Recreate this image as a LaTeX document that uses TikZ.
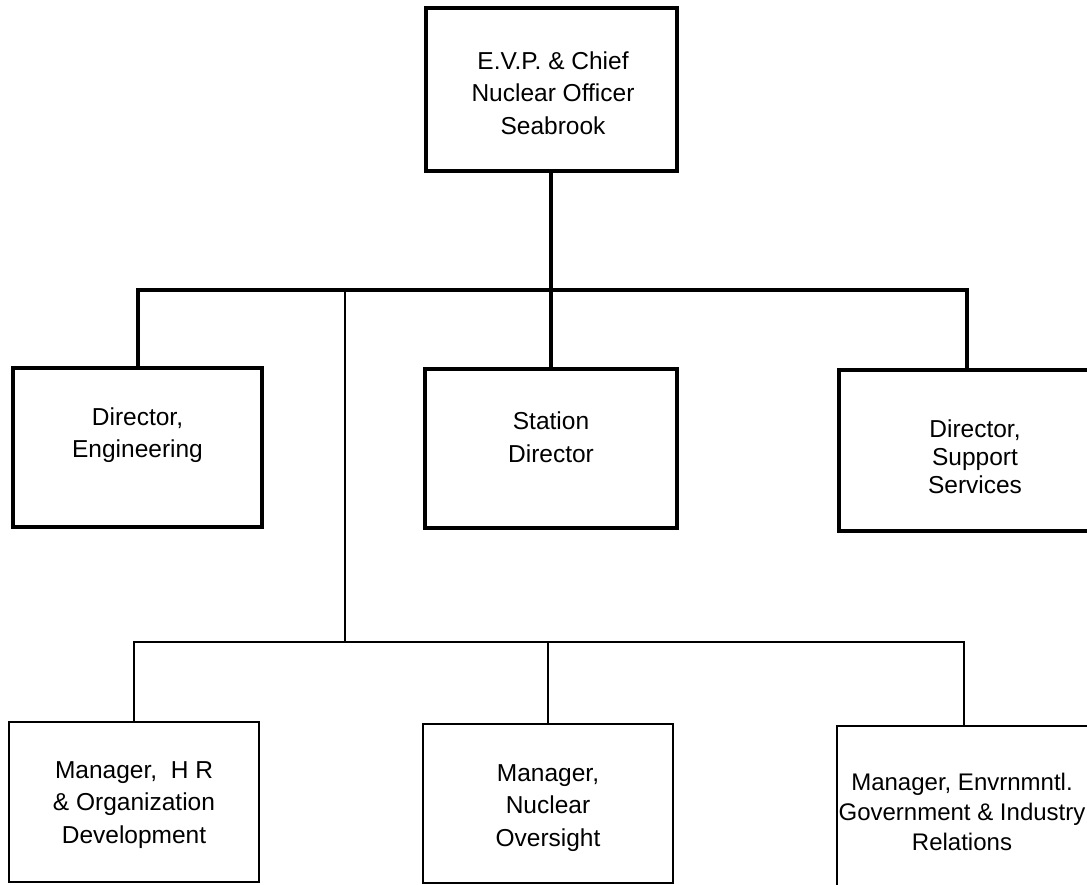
\documentclass[tikz,border=0pt]{standalone}
\usepackage{fontspec}
\setmainfont{Liberation Sans}
\begin{document}
\begin{tikzpicture}[x=1pt,y=-1pt,
  heavybox/.style={draw, line width=4pt, inner sep=0pt},
  lightbox/.style={draw, line width=1.8pt, inner sep=0pt},
  heavyline/.style={line width=4pt},
  lightline/.style={line width=1.8pt},
  lbl/.style={align=center, inner sep=0pt, font=\fontsize{24.5}{32.5}\selectfont}]
\useasboundingbox (0,0) rectangle (1087,884);
\clip (0,0) rectangle (1087,884);
% boxes
\node[heavybox, minimum width=251pt, minimum height=163pt] (evp) at (551,89.5) {};
\node[heavybox, minimum width=249pt, minimum height=159pt] (eng) at (137.5,447.5) {};
\node[heavybox, minimum width=252pt, minimum height=159pt] (sta) at (551,448.5) {};
\node[heavybox, minimum width=272pt, minimum height=161pt] (sup) at (975,450.5) {};
\node[lightbox, minimum width=250pt, minimum height=160pt] (hr) at (134,802) {};
\node[lightbox, minimum width=250pt, minimum height=159pt] (nuc) at (548,803.5) {};
\node[lightbox, minimum width=262pt, minimum height=162pt] (env) at (968,807) {};
% labels
\node[lbl] (evpt) at (553,93) {E.V.P. \& Chief\\Nuclear Officer\\Seabrook};
\node[lbl] (engt) at (137.5,435) {Director,\\Engineering};
\node[lbl] (stat) at (551,437) {Station\\Director};
\node[lbl, font=\fontsize{24.5}{28}\selectfont] (supt) at (975,457) {Director,\\Support\\Services};
\node[lbl] (hrt) at (134,805) {Manager,\ \ H R\\\& Organization\\Development};
\node[lbl] (nuct) at (548,808) {Manager,\\Nuclear\\Oversight};
\node[lbl, font=\fontsize{24}{30}\selectfont] (envt) at (962,812) {Manager, Envrnmntl.\\Government \& Industry\\Relations};
% junctions
\coordinate (bus) at (551,290);
\coordinate (supin) at (967,290);
\coordinate (staffin) at (345,290);
\coordinate (lowbus) at (345,642);
\coordinate (envin) at (964,642);
% connectors
\draw[heavyline] (evp.south) -- (bus);
\draw[heavyline] (eng.north) |- (bus) -- (sta.north);
\draw[heavyline] (bus) -- (supin) -- (supin |- sup.north);
\draw[lightline] (staffin) -- (lowbus);
\draw[lightline] (hr.north) |- (lowbus) -| (nuc.north);
\draw[lightline] (nuc.north |- lowbus) -- (envin) -- (envin |- env.north);
\end{tikzpicture}
\end{document}
